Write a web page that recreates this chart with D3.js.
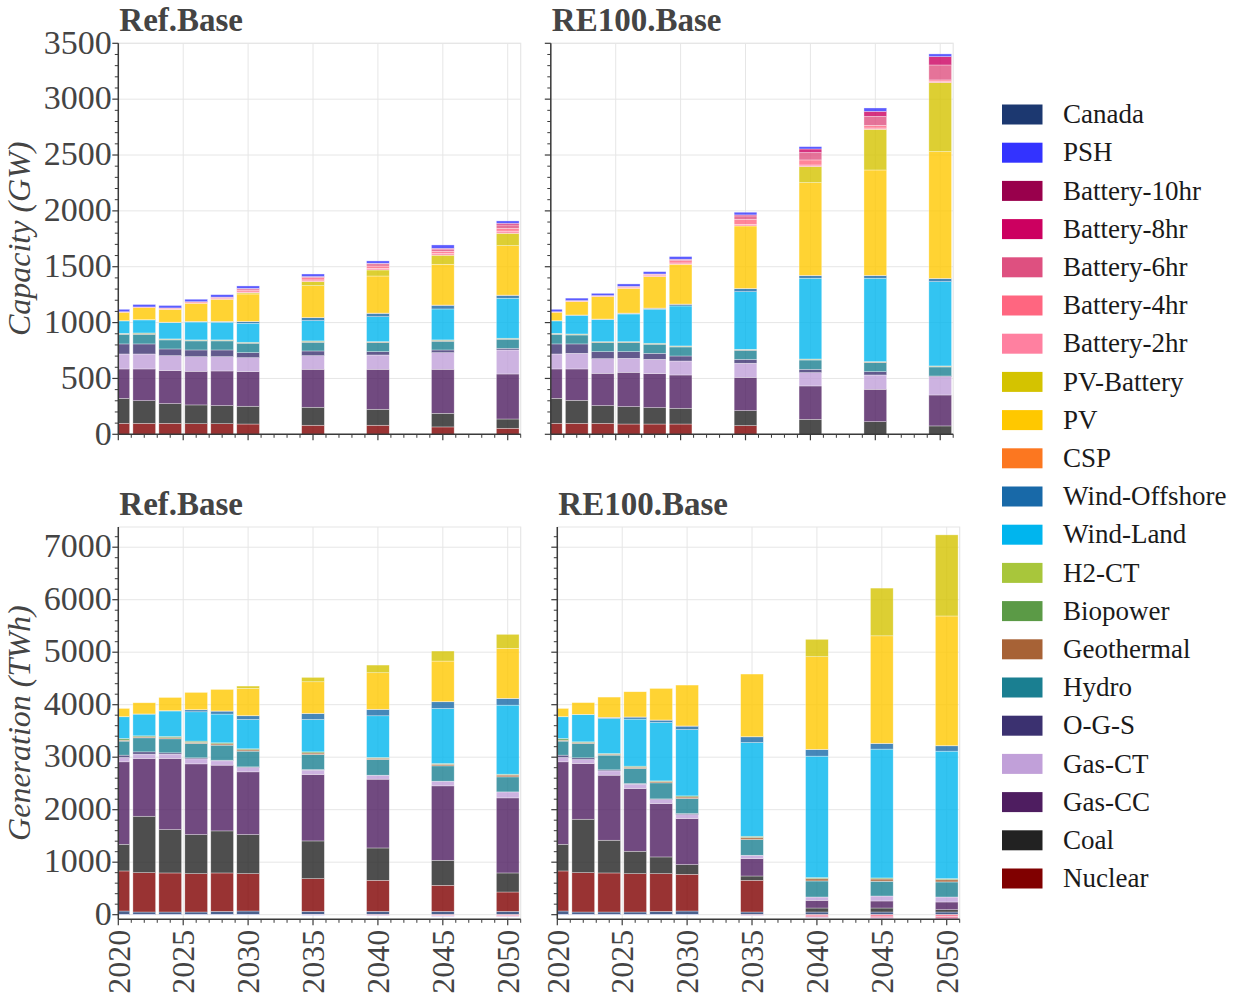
<!DOCTYPE html>
<html><head><meta charset="utf-8">
<script src="https://cdn.jsdelivr.net/npm/d3@7"></script>
<style>
body{margin:0;background:#fff}
svg{display:block}
text{font-family:"Liberation Serif","Times New Roman",serif}
</style>
</head><body>
<svg id="chart" width="1237" height="997"></svg>
<script>
// ---------------- data ----------------
const years = [2020, 2022, 2024, 2026, 2028, 2030, 2035, 2040, 2045, 2050];
const stackOrder = ["Canada","Nuclear","Coal","Gas-CC","Gas-CT","O-G-S","Hydro","Geothermal","Biopower","H2-CT",
  "Wind-Land","Wind-Offshore","CSP","PV","PV-Battery","Battery-2hr","Battery-4hr","Battery-6hr","Battery-8hr","Battery-10hr","PSH"];
const legendOrder = ["Canada","PSH","Battery-10hr","Battery-8hr","Battery-6hr","Battery-4hr","Battery-2hr","PV-Battery","PV","CSP",
  "Wind-Offshore","Wind-Land","H2-CT","Biopower","Geothermal","Hydro","O-G-S","Gas-CT","Gas-CC","Coal","Nuclear"];
const techColors = ["#1c3870","#3333ff","#99004c","#cc0060","#de5080","#ff6680","#ff80a0","#d4c300","#ffc800","#fc7720",
  "#1869a8","#00b5ee","#a8c63b","#5b9a46","#a76236","#1a7f91","#3b3170","#c1a0d9","#4e1d60","#222222","#800000"];

const capTicks = [0, 500, 1000, 1500, 2000, 2500, 3000, 3500];
const genTicks = [0, 1000, 2000, 3000, 4000, 5000, 6000, 7000];
const yearTicks = [2020, 2025, 2030, 2035, 2040, 2045, 2050];

// Capacity (GW), Ref.Base
const capRef = {
  "Canada":       [0,0,0,0,0,0,0,0,0,0],
  "Nuclear":      [98,98,98,95,95,92,81,81,66,54],
  "Coal":         [224,203,177,168,162,159,161,143,122,83],
  "Gas-CC":       [263,284,295,301,310,310,340,358,394,403],
  "Gas-CT":       [134,134,134,131,128,125,122,128,149,215],
  "O-G-S":        [90,90,60,60,60,45,42,30,24,15],
  "Hydro":        [86,86,81,81,81,84,78,81,78,81],
  "Geothermal":   [4,6,5,5,5,5,6,5,7,5],
  "Biopower":     [5,6,4,4,4,4,6,4,5,4],
  "H2-CT":        [0,0,0,0,0,0,0,0,0,0],
  "Wind-Land":    [111,117,146,160,158,170,182,223,277,358],
  "Wind-Offshore":[0,0,2,4,6,15,26,30,33,26],
  "CSP":          [2,2,2,2,2,2,2,2,2,2],
  "PV":           [75,108,115,162,198,245,285,332,365,443],
  "PV-Battery":   [0,0,0,0,0,10,36,54,81,110],
  "Battery-2hr":  [0,0,4,4,5,8,15,15,15,20],
  "Battery-4hr":  [5,6,8,10,10,16,20,20,20,25],
  "Battery-6hr":  [0,0,0,0,4,12,10,20,20,30],
  "Battery-8hr":  [0,0,0,0,0,4,0,5,7,15],
  "Battery-10hr": [0,0,0,0,0,0,0,0,0,0],
  "PSH":          [22,22,22,22,22,22,23,21,30,21]
};
// Capacity (GW), RE100.Base
const capRE = {
  "Canada":       [0,0,0,0,0,0,0,0,0,0],
  "Nuclear":      [98,98,98,92,92,92,78,0,0,0],
  "Coal":         [224,206,159,156,147,141,134,134,113,75],
  "Gas-CC":       [263,281,289,307,304,298,298,299,290,277],
  "Gas-CT":       [134,140,131,125,128,125,126,119,128,164],
  "O-G-S":        [90,84,63,60,54,45,35,30,30,6],
  "Hydro":        [86,80,80,80,81,81,81,83,81,81],
  "Geothermal":   [4,5,5,5,5,5,5,5,5,5],
  "Biopower":     [5,4,4,4,4,4,4,4,4,4],
  "H2-CT":        [0,0,0,0,0,0,0,0,0,0],
  "Wind-Land":    [111,168,199,248,305,358,516,723,746,755],
  "Wind-Offshore":[0,0,2,6,8,15,27,24,24,27],
  "CSP":          [2,2,2,2,2,2,2,2,2,2],
  "PV":           [75,120,200,222,282,356,559,830,943,1135],
  "PV-Battery":   [0,0,0,0,0,0,0,143,364,617],
  "Battery-2hr":  [0,3,4,6,8,12,15,15,12,10],
  "Battery-4hr":  [5,6,6,9,12,20,45,45,24,14],
  "Battery-6hr":  [0,0,0,2,3,10,30,66,80,134],
  "Battery-8hr":  [0,0,0,0,0,3,9,32,45,75],
  "Battery-10hr": [0,0,0,0,0,0,0,0,0,0],
  "PSH":          [22,22,20,22,21,24,24,21,30,24]
};
// Generation (TWh), Ref.Base
const genRef = {
  "Canada":       [70,51,51,51,64,70,64,64,64,64],
  "Nuclear":      [763,750,744,731,731,712,623,591,495,368],
  "Coal":         [508,1074,826,744,801,744,718,616,477,363],
  "Gas-CC":       [1571,1100,1354,1347,1252,1195,1265,1310,1418,1430],
  "Gas-CT":       [82,83,83,96,83,82,83,76,89,114],
  "O-G-S":        [45,44,25,19,12,13,12,0,0,0],
  "Hydro":        [267,267,267,273,286,299,286,299,292,286],
  "Geothermal":   [18,18,20,22,25,25,30,25,30,35],
  "Biopower":     [33,20,25,23,20,20,21,13,15,16],
  "H2-CT":        [0,0,0,0,0,0,0,0,0,0],
  "Wind-Land":    [413,414,486,559,547,559,617,795,1049,1316],
  "Wind-Offshore":[0,0,3,38,57,70,114,121,127,127],
  "CSP":          [3,3,3,3,3,3,3,3,3,3],
  "PV":           [156,213,251,328,410,518,601,696,772,951],
  "PV-Battery":   [0,0,0,0,0,45,83,146,191,267],
  "Battery-2hr":  [0,0,0,0,0,0,0,0,0,0],
  "Battery-4hr":  [0,0,0,0,0,0,-5,-10,-12,-20],
  "Battery-6hr":  [0,0,0,0,0,0,0,-8,-10,-12],
  "Battery-8hr":  [0,0,0,0,0,0,0,0,-4,-6],
  "Battery-10hr": [0,0,0,0,0,0,0,0,0,0],
  "PSH":          [-4,-4,-4,-4,-4,-4,-4,-4,-4,-4]
};
// Generation (TWh), RE100.Base
const genRE = {
  "Canada":       [70,51,51,51,64,70,51,51,51,51],
  "Nuclear":      [763,750,744,731,718,699,604,0,0,0],
  "Coal":         [508,1017,623,426,318,185,82,76,76,44],
  "Gas-CC":       [1571,1062,1239,1195,1017,877,331,146,134,147],
  "Gas-CT":       [82,76,83,83,76,76,64,64,95,95],
  "O-G-S":        [45,32,19,13,13,19,0,0,0,0],
  "Hydro":        [267,273,280,285,305,286,298,305,280,286],
  "Geothermal":   [18,18,18,25,25,30,40,45,45,45],
  "Biopower":     [33,14,13,20,13,21,24,19,19,19],
  "H2-CT":        [0,0,0,0,0,0,0,0,0,0],
  "Wind-Land":    [413,521,668,896,1113,1265,1786,2314,2454,2428],
  "Wind-Offshore":[0,0,19,39,44,64,108,127,108,102],
  "CSP":          [3,3,3,3,3,3,3,3,3,3],
  "PV":           [156,223,385,480,601,779,1193,1764,2047,2470],
  "PV-Battery":   [0,0,0,0,0,0,0,331,909,1545],
  "Battery-2hr":  [0,0,0,0,0,0,0,0,0,0],
  "Battery-4hr":  [0,0,0,0,0,0,-10,-25,-30,-35],
  "Battery-6hr":  [0,0,0,0,0,0,-6,-20,-24,-30],
  "Battery-8hr":  [0,0,0,0,0,0,0,-10,-12,-16],
  "Battery-10hr": [0,0,0,0,0,0,0,0,0,0],
  "PSH":          [-4,-4,-4,-4,-4,-4,-4,-4,-4,-4]
};

// ---------------- drawing ----------------
const svg = d3.select("#chart");
const color = d3.scaleOrdinal().domain(legendOrder).range(techColors);
const FONT = '"Liberation Serif","Times New Roman",serif';

const panels = [
  {id:"p1", data:capRef, title:"Ref.Base",   x0:118.3, x1:520.7, top:43.3, bottom:434.3, dom:[0,3500],   ticks:capTicks, minor:100, ylab:"Capacity (GW)",   showY:true,  showX:false},
  {id:"p2", data:capRE,  title:"RE100.Base", x0:550.8, x1:953.2, top:43.3, bottom:434.3, dom:[0,3500],   ticks:capTicks, minor:100, ylab:null,              showY:false, showX:false},
  {id:"p3", data:genRef, title:"Ref.Base",   x0:118.3, x1:520.7, top:527,  bottom:919.3, dom:[-88,7385], ticks:genTicks, minor:200, ylab:"Generation (TWh)", showY:true,  showX:true},
  {id:"p4", data:genRE,  title:"RE100.Base", x0:557.3, x1:959.7, top:527,  bottom:919.3, dom:[-88,7385], ticks:genTicks, minor:200, ylab:null,              showY:false, showX:true}
];

const gridColor = "#e6e6e6";
const axisColor = "#3a3a3a";
const labelColor = "#444";

panels.forEach(p => {
  const x = d3.scaleLinear().domain([2020, 2051]).range([p.x0, p.x1]);
  const y = d3.scaleLinear().domain(p.dom).range([p.bottom, p.top]);
  const g = svg.append("g");

  svg.append("clipPath").attr("id", "clip-" + p.id)
    .append("rect").attr("x", p.x0).attr("y", p.top).attr("width", p.x1 - p.x0).attr("height", p.bottom - p.top);

  // grid
  g.selectAll(".hg").data(p.ticks).join("line")
    .attr("x1", p.x0).attr("x2", p.x1).attr("y1", d => y(d)).attr("y2", d => y(d))
    .attr("stroke", gridColor).attr("stroke-width", 1);
  g.selectAll(".vg").data(yearTicks).join("line")
    .attr("x1", d => x(d)).attr("x2", d => x(d)).attr("y1", p.top).attr("y2", p.bottom)
    .attr("stroke", gridColor).attr("stroke-width", 1);
  g.append("path").attr("d", `M${p.x0},${p.top}H${p.x1}V${p.bottom}`)
    .attr("fill", "none").attr("stroke", gridColor).attr("stroke-width", 1.2);

  // stacked bars
  const rows = years.map((yr, i) => {
    const r = {year: yr};
    stackOrder.forEach(k => r[k] = p.data[k][i]);
    return r;
  });
  const series = d3.stack().keys(stackOrder).offset(d3.stackOffsetDiverging)(rows);
  const bw = 1.75;
  const bars = g.append("g").attr("clip-path", `url(#clip-${p.id})`);
  series.forEach(s => {
    bars.append("g").selectAll("rect").data(s.filter(d => d[1] !== d[0])).join("rect")
      .attr("x", d => x(d.data.year - bw / 2))
      .attr("width", d => x(d.data.year + bw / 2) - x(d.data.year - bw / 2))
      .attr("y", d => y(Math.max(d[0], d[1])))
      .attr("height", d => Math.abs(y(d[0]) - y(d[1])))
      .attr("fill", color(s.key)).attr("fill-opacity", 0.8)
      .attr("stroke", "#ffffff").attr("stroke-opacity", 0.55).attr("stroke-width", 0.6);
  });

  // y axis
  const minorY = d3.range(Math.ceil(p.dom[0] / p.minor) * p.minor, p.dom[1] + 1, p.minor).filter(v => v % (p.minor * 5) !== 0);
  g.selectAll(".ymin").data(minorY).join("line")
    .attr("x1", p.x0 - 3.5).attr("x2", p.x0).attr("y1", d => y(d)).attr("y2", d => y(d))
    .attr("stroke", axisColor).attr("stroke-width", 1);
  g.selectAll(".ymaj").data(p.ticks).join("line")
    .attr("x1", p.x0 - 6).attr("x2", p.x0).attr("y1", d => y(d)).attr("y2", d => y(d))
    .attr("stroke", axisColor).attr("stroke-width", 1.2);
  g.append("line").attr("x1", p.x0).attr("x2", p.x0).attr("y1", p.top).attr("y2", p.bottom)
    .attr("stroke", axisColor).attr("stroke-width", 1.5);
  if (p.showY) {
    g.selectAll(".ylab").data(p.ticks).join("text")
      .attr("x", p.x0 - 6.5).attr("y", d => y(d)).attr("dy", "0.3em")
      .attr("text-anchor", "end").attr("font-size", 34).attr("fill", labelColor)
      .style("font-family", FONT).text(d => d);
  }

  // x axis
  const minorX = d3.range(2020, 2052).filter(v => v % 5 !== 0);
  g.selectAll(".xmin").data(minorX).join("line")
    .attr("x1", d => x(d)).attr("x2", d => x(d)).attr("y1", p.bottom).attr("y2", p.bottom + 3.5)
    .attr("stroke", axisColor).attr("stroke-width", 1);
  g.selectAll(".xmaj").data(yearTicks).join("line")
    .attr("x1", d => x(d)).attr("x2", d => x(d)).attr("y1", p.bottom).attr("y2", p.bottom + 6)
    .attr("stroke", axisColor).attr("stroke-width", 1.2);
  g.append("line").attr("x1", p.x0).attr("x2", p.x1).attr("y1", p.bottom).attr("y2", p.bottom)
    .attr("stroke", axisColor).attr("stroke-width", 1.5);
  if (p.showX) {
    g.selectAll(".xlab").data(yearTicks).join("text")
      .attr("transform", d => `translate(${x(d)},${p.bottom + 10.5}) rotate(-90)`)
      .attr("dy", "0.35em").attr("text-anchor", "end")
      .attr("font-size", 32).attr("fill", labelColor).style("font-family", FONT).text(d => d);
  }

  // title
  g.append("text").attr("x", p.x0 + 1).attr("y", p.top - 12.5)
    .attr("font-size", 33).attr("font-weight", "bold").attr("fill", labelColor)
    .style("font-family", FONT).text(p.title);

  // y-axis title
  if (p.ylab) {
    g.append("text").attr("transform", `translate(30,${(p.top + p.bottom) / 2}) rotate(-90)`)
      .attr("text-anchor", "middle").attr("font-size", 32).attr("font-style", "italic")
      .attr("fill", labelColor).style("font-family", FONT).text(p.ylab);
  }
});

// legend
const lg = svg.append("g");
legendOrder.forEach((k, i) => {
  const cy = 114.5 + i * 38.2;
  lg.append("rect").attr("x", 1002).attr("y", cy - 10).attr("width", 40.5).attr("height", 20).attr("fill", color(k));
  lg.append("text").attr("x", 1063).attr("y", cy).attr("dy", "0.32em")
    .attr("font-size", 27).attr("fill", "#1a1a1a").style("font-family", FONT).text(k);
});
</script>
</body></html>
